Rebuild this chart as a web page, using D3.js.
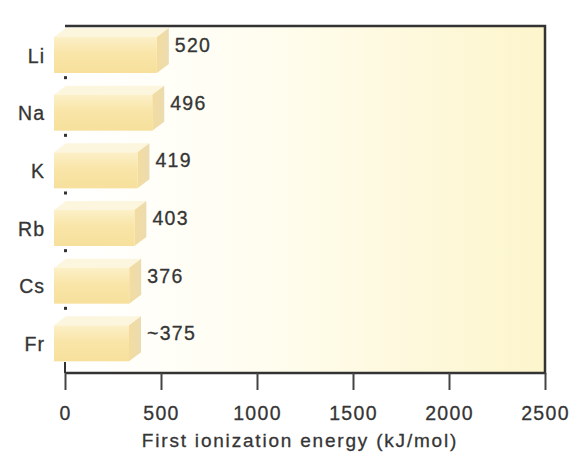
<!DOCTYPE html>
<html>
<head>
<meta charset="utf-8">
<script src="https://cdn.jsdelivr.net/npm/d3@7"></script>
<style>
  body { margin: 0; background: #fff; }
  svg { display: block; font-family: "Liberation Sans", Arial, sans-serif; }
</style>
</head>
<body>
<svg id="chart" width="576" height="461"></svg>
<script>
// chart data
const elements = ['Li', 'Na', 'K', 'Rb', 'Cs', 'Fr'];
const energies = [520, 496, 419, 403, 376, 375];
const valueLabels = ['520', '496', '419', '403', '376', '~375'];
const xTicks = [0, 500, 1000, 1500, 2000, 2500];
const xTitle = 'First ionization energy (kJ/mol)';

const svg = d3.select('#chart');
const margin = {t: 26, r: 31, b: 88, l: 65};
const width = 576, height = 461;
const x0 = margin.l, x1 = width - margin.r;
const yTop = margin.t, yBot = height - margin.b;
const textColor = '#353535';

// scales
const scaleX = d3.scaleLinear().domain([0, 2500]).range([x0, x1]);
const scaleY = d3.scaleBand().domain(elements).range([20, 366]).padding(0);

// gradients
const defs = svg.append('defs');
const bg = defs.append('linearGradient').attr('id', 'bg')
    .attr('x1', 0).attr('x2', 1).attr('y1', 0).attr('y2', 0);
bg.append('stop').attr('offset', '0%').attr('stop-color', '#ffffff');
bg.append('stop').attr('offset', '40%').attr('stop-color', '#fffdf0');
bg.append('stop').attr('offset', '100%').attr('stop-color', '#fcf5cc');

const front = defs.append('linearGradient').attr('id', 'front')
    .attr('x1', 0).attr('x2', 0).attr('y1', 0).attr('y2', 1);
front.append('stop').attr('offset', '0%').attr('stop-color', '#fcf0c8');
front.append('stop').attr('offset', '45%').attr('stop-color', '#f9e5a8');
front.append('stop').attr('offset', '100%').attr('stop-color', '#f7e09c');

const side = defs.append('linearGradient').attr('id', 'side')
    .attr('x1', 0).attr('x2', 1).attr('y1', 0).attr('y2', 0);
side.append('stop').attr('offset', '0%').attr('stop-color', '#f3dc9f');
side.append('stop').attr('offset', '100%').attr('stop-color', '#ebdbb0');

// plot background
svg.append('rect')
    .attr('x', x0).attr('y', yTop)
    .attr('width', x1 - x0).attr('height', yBot - yTop)
    .attr('fill', 'url(#bg)');

// bars as 3d boxes
const depthX = 12, depthY = 9;
const bars = svg.append('g').attr('class', 'bars')
    .selectAll('g')
    .data(elements.map((e, i) => ({el: e, v: energies[i], label: valueLabels[i]})))
    .join('g');

bars.each(function(d) {
    const g = d3.select(this);
    const left = scaleX(0) - 11;
    const right = scaleX(d.v) - 8;
    const ft = scaleY(d.el) + 17;
    const fb = ft + 36;
    g.append('path')
        .attr('d', `M${left},${ft}L${right},${ft}L${right + depthX},${ft - depthY}L${left + depthX},${ft - depthY}Z`)
        .attr('fill', '#fdf6de');
    g.append('path')
        .attr('d', `M${right},${ft}L${right + depthX},${ft - depthY}L${right + depthX},${fb - depthY}L${right},${fb}Z`)
        .attr('fill', 'url(#side)');
    g.append('rect')
        .attr('x', left).attr('y', ft)
        .attr('width', right - left).attr('height', fb - ft)
        .attr('fill', 'url(#front)');
    g.append('text')
        .attr('x', scaleX(d.v) + 10)
        .attr('y', ft + 15)
        .attr('font-size', 19.5)
        .attr('letter-spacing', 1.3)
        .attr('fill', textColor)
        .attr('stroke', textColor).attr('stroke-width', 0.3)
        .text(d.label);
    g.append('text')
        .attr('x', 45)
        .attr('y', ft + 19)
        .attr('dy', '0.35em')
        .attr('text-anchor', 'end')
        .attr('font-size', 19.5)
        .attr('letter-spacing', 1)
        .attr('fill', textColor)
        .attr('stroke', textColor).attr('stroke-width', 0.3)
        .text(d.el);
});

// small tick dots between categories
svg.append('g')
    .selectAll('rect')
    .data(elements.slice(1))
    .join('rect')
    .attr('x', x0 - 1).attr('y', d => scaleY(d) - 1.5)
    .attr('width', 3).attr('height', 3)
    .attr('fill', '#333');

// frame: top, right, bottom
const frameColor = '#333333';
svg.append('path')
    .attr('d', `M${x0},${yTop}L${x1},${yTop}L${x1},${yBot}L${x0},${yBot}`)
    .attr('fill', 'none')
    .attr('stroke', frameColor)
    .attr('stroke-width', 2.5);
svg.append('line')
    .attr('x1', x0).attr('x2', x0)
    .attr('y1', 362).attr('y2', yBot)
    .attr('stroke', frameColor).attr('stroke-width', 2);

// x axis
const xAxis = d3.axisBottom(scaleX)
    .tickValues(xTicks)
    .tickSize(17)
    .tickPadding(16)
    .tickFormat(d3.format('d'));
const axisG = svg.append('g')
    .attr('transform', `translate(0,${yBot})`)
    .call(xAxis);
axisG.select('.domain').remove();
axisG.selectAll('.tick line')
    .attr('stroke', '#444')
    .attr('stroke-width', 2);
axisG.selectAll('.tick text')
    .attr('font-size', 19.5)
    .attr('letter-spacing', 1.3)
    .attr('font-family', '"Liberation Sans", Arial, sans-serif')
    .attr('fill', textColor)
    .attr('stroke', textColor).attr('stroke-width', 0.3);

// axis title
svg.append('text')
    .attr('x', 300)
    .attr('y', 447)
    .attr('text-anchor', 'middle')
    .attr('font-size', 19)
    .attr('letter-spacing', 1.8)
    .attr('fill', textColor)
    .attr('stroke', textColor).attr('stroke-width', 0.3)
    .text(xTitle);
</script>
</body>
</html>
